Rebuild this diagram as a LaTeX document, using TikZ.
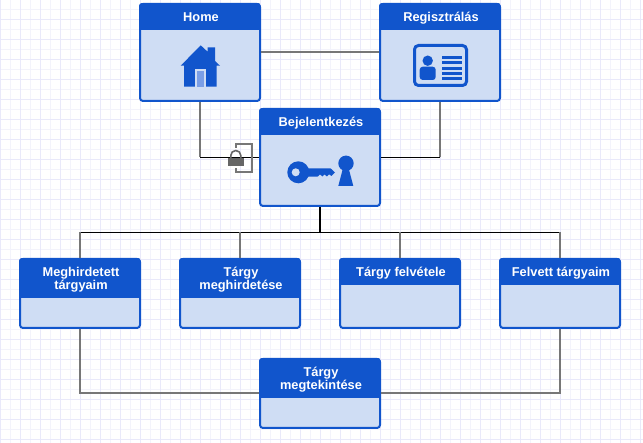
\documentclass[tikz,border=0pt]{standalone}
\usepackage{fontspec}
\setmainfont{Liberation Sans}
\definecolor{cardblue}{HTML}{1155CC}
\definecolor{cardfill}{HTML}{CFDDF4}
\definecolor{doorblue}{HTML}{7A9EE6}
\definecolor{gridminor}{HTML}{F3F3FB}
\definecolor{gridmajor}{HTML}{E9E9FA}
\definecolor{lockgray}{HTML}{666666}
\definecolor{linkgray}{HTML}{777777}
\newcommand{\tl}{\rule[-3pt]{0pt}{13pt}}
\tikzset{
  cardbox/.style={draw=cardblue,fill=cardfill,line width=2pt,rounded corners=3pt,minimum width=120pt,inner sep=0pt},
  cardtitle/.style={text=white,font=\fontsize{12.8}{13}\selectfont\bfseries,align=center,inner sep=0pt},
  linkthin/.style={draw=black,line width=1pt},
  linkwide/.style={draw=linkgray,line width=2pt},
  linktrunk/.style={draw=black,line width=2pt},
  iconfill/.style={fill=cardblue},
}
% name, centre x, centre y, height, header height, title
\newcommand{\mkcard}[6]{%
  \node[cardbox,minimum height=#4pt] (#1) at (#2,#3) {};
  \begin{scope}
    \clip[rounded corners=3pt] (#1.north west) rectangle (#1.south east);
    \fill[cardblue] (#1.north west) rectangle ([yshift=-#5pt]#1.north east);
  \end{scope}
  \node[cardtitle] (#1title) at ([xshift=1pt,yshift=-#5pt/2-1.5pt]#1.north) {#6};
}
\begin{document}
\begin{tikzpicture}[x=1pt,y=-1pt]
\useasboundingbox (0,0) rectangle (643,443);
\fill[white] (0,0) rectangle (643,443);
% grid
\foreach \g in {0,10,...,640} \draw[gridminor,line width=1pt] (\g+0.5,0) -- (\g+0.5,443);
\foreach \g in {9,19,...,439} \draw[gridminor,line width=1pt] (0,\g+0.5) -- (643,\g+0.5);
\foreach \g in {0,20,...,640} \draw[gridmajor,line width=1pt] (\g+0.5,0) -- (\g+0.5,443);
\foreach \g in {19,39,...,439} \draw[gridmajor,line width=1pt] (0,\g+0.5) -- (643,\g+0.5);
% cards
\mkcard{home}{200}{52.5}{97}{27}{\tl Home}
\mkcard{reg}{440}{52.5}{97}{27}{\tl Regisztrálás}
\mkcard{bej}{320}{157.5}{97}{27}{\tl Bejelentkezés}
\mkcard{meg}{80}{293.5}{69}{40}{\tl Meghirdetett\\\tl tárgyaim}
\mkcard{hird}{240}{293.5}{69}{40}{\tl Tárgy\\\tl meghirdetése}
\mkcard{felv}{400}{293.5}{69}{27}{\tl Tárgy felvétele}
\mkcard{felt}{560}{293.5}{69}{27}{\tl Felvett tárgyaim}
\mkcard{megt}{320}{393.5}{69}{40}{\tl Tárgy\\\tl megtekintése}
% connectors
\coordinate (bus) at (320,232.5);
\coordinate (homec) at (home.south |- bej.west);
\coordinate (regc) at (reg.south |- bej.east);
\coordinate (megc) at ([yshift=0.5pt]meg.south |- megt.west);
\coordinate (feltc) at ([yshift=0.5pt]felt.south |- megt.east);
\draw[linkwide] ([yshift=0.5pt]home.east) -- ([yshift=0.5pt]reg.west);
\draw[linkwide] (home.south) -- (homec);
\draw[linkthin] (homec) -- (bej.west);
\draw[linkwide] (reg.south) -- (regc);
\draw[linkthin] (regc) -- (bej.east);
\draw[linktrunk] (bej.south) -- (bus);
\draw[linkthin] (meg.north |- bus) -- (felt.north |- bus);
\draw[linkwide] (meg.north |- bus) -- (meg.north);
\draw[linkwide] (hird.north |- bus) -- (hird.north);
\draw[linkwide] (felv.north |- bus) -- (felv.north);
\draw[linkwide] (felt.north |- bus) -- (felt.north);
\draw[linkwide,line join=miter] (meg.south) -- (megc) -- ([yshift=0.5pt]megt.west);
\draw[linkwide,line join=miter] (felt.south) -- (feltc) -- ([yshift=0.5pt]megt.east);
% house icon
\fill[iconfill] (200.7,45.3) -- (207.7,51.8) -- (207.7,47.3) -- (215,47.3) -- (215,61) -- (220,65.7) -- (216.7,65.7) -- (216.7,86.7) -- (184,86.7) -- (184,65.7) -- (180.7,65.7) -- cycle;
\fill[cardfill] (195,69.3) rectangle (206,86.7);
\fill[doorblue] (197,71) rectangle (204,86.7);
% registration card icon
\draw[cardblue,line width=3pt,rounded corners=4pt] (414.5,45.5) rectangle (466.5,85.5);
\fill[iconfill] (427.7,60.7) circle[radius=5.2];
\fill[iconfill,rounded corners=3pt] (419.7,80) -- (419.7,66.7) -- (435.7,66.7) -- (435.7,80) -- cycle;
\foreach \s in {56,61.3,66.6,72,77} \fill[iconfill] (442.3,\s) rectangle (462,\s+3);
% key icon
\fill[iconfill] (298.3,172.3) circle[radius=11];
\fill[iconfill] (305,168.3) -- (330.5,168.3) -- (335,172.5) -- (331.5,176) -- (329,174.3) -- (327,176.5) -- (324.5,174.5) -- (322.5,176.5) -- (320,174.5) -- (317.5,176.7) -- (305,176.7) -- cycle;
\fill[cardfill] (295.7,172.3) circle[radius=4];
\fill[iconfill] (346,163.3) circle[radius=7.7];
\fill[iconfill] (343.3,167) -- (338.3,186) -- (353.3,186) -- (348.3,167) -- cycle;
% lock
\draw[linkgray,line width=2pt] (235.7,148) -- (235.7,144) -- (252.3,144) -- (252.3,172) -- (235.7,172) -- (235.7,168);
\fill[lockgray] (227.7,157.7) rectangle (244,166);
\draw[lockgray,line width=1.6pt] (230.8,158) -- (230.8,155.5) arc[start angle=180,end angle=360,radius=5] -- (240.8,158);
\end{tikzpicture}
\end{document}
